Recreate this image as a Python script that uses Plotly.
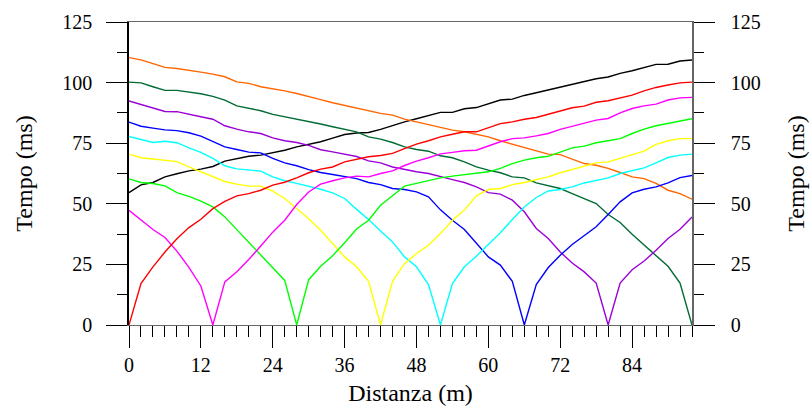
import plotly.graph_objects as go

# Geophone positions along the line (m)
distanza = list(range(0, 96, 2))

# First-arrival times (ms) for each shot
tiro_0 = [0, 17.1, 24.0, 30.1, 35.6, 40.2, 43.6, 48.0, 51.0, 53.3, 54.2, 55.6, 57.7, 58.9, 60.7, 62.8,
          64.3, 65.2, 67.3, 68.4, 69.4, 69.9, 70.8, 72.8, 74.6, 76.0, 77.6, 78.7, 79.7, 79.7, 81.5, 83.1,
          83.8, 84.9, 85.6, 86.9, 88.4, 89.6, 90.3, 91.9, 92.5, 93.5, 94.8, 96.6, 98.0, 99.0, 99.9, 100.2]
tiro_14 = [47.3, 43.2, 39.4, 36.1, 30.5, 23.8, 16.1, 0, 17.8, 22.0, 27.0, 32.6, 38.3, 43.2, 49.7, 54.9,
           58.1, 59.5, 60.7, 61.4, 61.1, 62.5, 63.6, 65.8, 67.6, 69.0, 70.6, 71.2, 71.9, 72.1, 73.8, 75.6,
           76.9, 77.2, 78.0, 79.0, 80.7, 82.0, 83.2, 84.5, 85.2, 87.5, 89.3, 90.4, 91.1, 92.8, 93.7, 93.9]
tiro_28 = [60.3, 58.8, 58.4, 57.4, 54.6, 53.1, 51.1, 48.7, 44.6, 39.4, 34.3, 28.8, 24.0, 18.4, 0, 18.7,
           24.2, 28.6, 33.9, 39.6, 43.2, 49.4, 53.3, 57.3, 58.4, 59.7, 60.7, 61.4, 62.1, 62.8, 63.2, 64.6,
           66.6, 68.0, 69.0, 69.6, 71.4, 73.1, 73.8, 75.2, 76.0, 76.9, 79.0, 80.8, 82.2, 83.1, 84.2, 85.1]
tiro_42 = [70.5, 69.0, 68.5, 68.0, 67.4, 65.2, 63.2, 61.1, 59.2, 58.1, 57.3, 57.3, 55.2, 52.2, 48.0, 43.8,
           39.1, 33.6, 28.1, 24.0, 18.0, 0, 18.0, 25.3, 29.5, 32.9, 37.7, 43.2, 47.4, 53.3, 55.9, 56.3,
           57.9, 58.8, 60.0, 61.1, 62.8, 64.1, 65.5, 66.9, 67.3, 68.7, 70.3, 71.7, 74.5, 76.0, 76.9, 76.9]
tiro_52 = [77.8, 76.5, 75.3, 75.8, 75.2, 73.1, 71.2, 68.7, 65.7, 64.4, 64.0, 63.5, 61.1, 59.5, 58.4, 57.3,
           56.0, 54.5, 52.2, 47.7, 43.5, 38.8, 34.3, 28.1, 24.0, 16.7, 0, 17.1, 24.0, 28.4, 33.3, 38.1,
           43.5, 48.7, 52.6, 55.3, 55.9, 57.0, 58.6, 59.7, 60.7, 62.5, 63.6, 64.8, 66.9, 69.1, 70.1, 70.5]
tiro_66 = [83.7, 82.0, 81.2, 80.5, 80.2, 79.3, 77.9, 75.6, 73.5, 72.4, 71.3, 71.0, 68.7, 66.9, 65.7, 64.1,
           62.9, 62.1, 61.1, 60.4, 58.8, 57.9, 56.3, 55.9, 54.9, 52.9, 47.5, 43.2, 39.4, 33.6, 28.1, 24.7,
           18.0, 0, 16.7, 23.7, 28.8, 33.2, 37.0, 40.5, 45.6, 50.8, 54.5, 56.0, 57.0, 58.6, 60.8, 61.7]
tiro_80 = [92.4, 91.0, 89.5, 88.1, 88.0, 87.1, 85.9, 84.9, 82.2, 80.8, 79.7, 79.0, 77.2, 76.0, 75.3, 74.1,
           72.3, 71.4, 70.3, 69.5, 67.7, 66.9, 65.2, 64.1, 63.2, 62.5, 61.1, 60.0, 58.8, 57.0, 54.6, 54.0,
           51.5, 46.7, 39.8, 35.7, 30.1, 25.6, 21.9, 17.3, 0, 17.3, 22.8, 26.4, 30.8, 35.7, 39.5, 44.6]
tiro_94 = [100.2, 99.9, 98.3, 96.8, 96.8, 96.2, 95.4, 94.3, 92.8, 90.4, 89.3, 88.4, 86.9, 85.9, 84.9, 84.2,
           82.9, 81.8, 80.8, 79.7, 77.6, 76.7, 75.3, 73.5, 72.4, 71.7, 69.8, 69.0, 67.3, 65.2, 63.9, 62.8,
           61.1, 60.7, 58.6, 57.4, 56.3, 54.2, 52.3, 50.1, 45.6, 42.3, 37.4, 32.9, 28.8, 24.2, 17.3, 0]
tiro_esterno_dx = [110.3, 109.4, 107.8, 106.3, 105.8, 105.2, 104.3, 103.5, 102.4, 100.3, 99.7, 98.3, 97.5, 96.6,
                   95.5, 94.4, 93.0, 91.7, 90.6, 89.6, 88.6, 87.3, 86.6, 84.9, 83.8, 82.7, 81.8, 80.4, 79.7,
                   78.7, 77.6, 76.0, 74.6, 73.2, 72.1, 70.5, 70.3, 68.3, 66.6, 65.9, 64.6, 62.9, 61.1, 60.4,
                   58.4, 55.6, 54.2, 51.9]
tiro_esterno_sx = [54.6, 57.8, 58.8, 61.1, 62.4, 63.6, 64.3, 65.4, 67.6, 68.5, 69.6, 70.1, 71.0, 72.1, 73.5,
                   74.5, 75.6, 77.1, 78.6, 79.2, 79.4, 80.7, 82.3, 83.8, 85.1, 86.3, 87.7, 87.7, 89.2, 89.7,
                   91.4, 92.8, 93.2, 94.7, 95.8, 96.9, 98.0, 99.2, 100.4, 101.6, 102.3, 103.8, 104.9, 106.3,
                   107.5, 107.6, 108.9, 109.3]

serie = [
    (tiro_esterno_sx, "#000000"),
    (tiro_esterno_dx, "#FF6600"),
    (tiro_94, "#006B33"),
    (tiro_80, "#9B00D9"),
    (tiro_66, "#0000FF"),
    (tiro_52, "#00FFFF"),
    (tiro_42, "#FFFF00"),
    (tiro_28, "#00FF00"),
    (tiro_14, "#FF00FF"),
    (tiro_0, "#FF0000"),
]

FONT = "Liberation Serif, Times New Roman, serif"

fig = go.Figure()
for i, (valori, colore) in enumerate(serie):
    # the last series is bound to the right-hand axis (same range) so that axis is rendered
    fig.add_trace(go.Scatter(x=distanza, y=valori, mode="lines",
                             line=dict(color=colore, width=1.4),
                             yaxis="y2" if i == len(serie) - 1 else "y",
                             showlegend=False, hoverinfo="skip"))

asse_y = dict(
    range=[0, 125], tickmode="linear", tick0=0, dtick=25,
    ticks="outside", ticklen=21, tickwidth=1.2, tickcolor="#000",
    minor=dict(dtick=12.5, ticks="outside", ticklen=10, tickwidth=1.2, tickcolor="#000", showgrid=False),
    showgrid=False, zeroline=False, showline=True, linewidth=1.5,
    tickfont=dict(family=FONT, size=20, color="#000"),
    automargin=False, fixedrange=True,
)
titolo_y = dict(text="Tempo (ms)", font=dict(family=FONT, size=24, color="#000"))

fig.update_layout(
    width=811, height=408,
    margin=dict(l=129, r=119, t=22, b=83),
    paper_bgcolor="white", plot_bgcolor="white",
    xaxis=dict(
        range=[0, 94], tickmode="linear", tick0=0, dtick=12,
        ticks="outside", ticklen=22, tickwidth=1.2, tickcolor="#000",
        minor=dict(dtick=2, ticks="outside", ticklen=11, tickwidth=1.2, tickcolor="#000", showgrid=False),
        showgrid=False, zeroline=False, showline=True, linewidth=1.3, linecolor="#666", mirror=True,
        tickfont=dict(family=FONT, size=20, color="#000"),
        title=dict(text="Distanza (m)", font=dict(family=FONT, size=24, color="#000"), standoff=9),
        automargin=False, fixedrange=True,
    ),
    yaxis=dict(asse_y, linecolor="#000", ticklabelstandoff=10, title=dict(titolo_y, standoff=23)),
    yaxis2=dict(asse_y, linecolor="#666", overlaying="y", side="right", ticklabelstandoff=12,
                title=dict(titolo_y, standoff=27)),
)

fig.write_html("out.html")
